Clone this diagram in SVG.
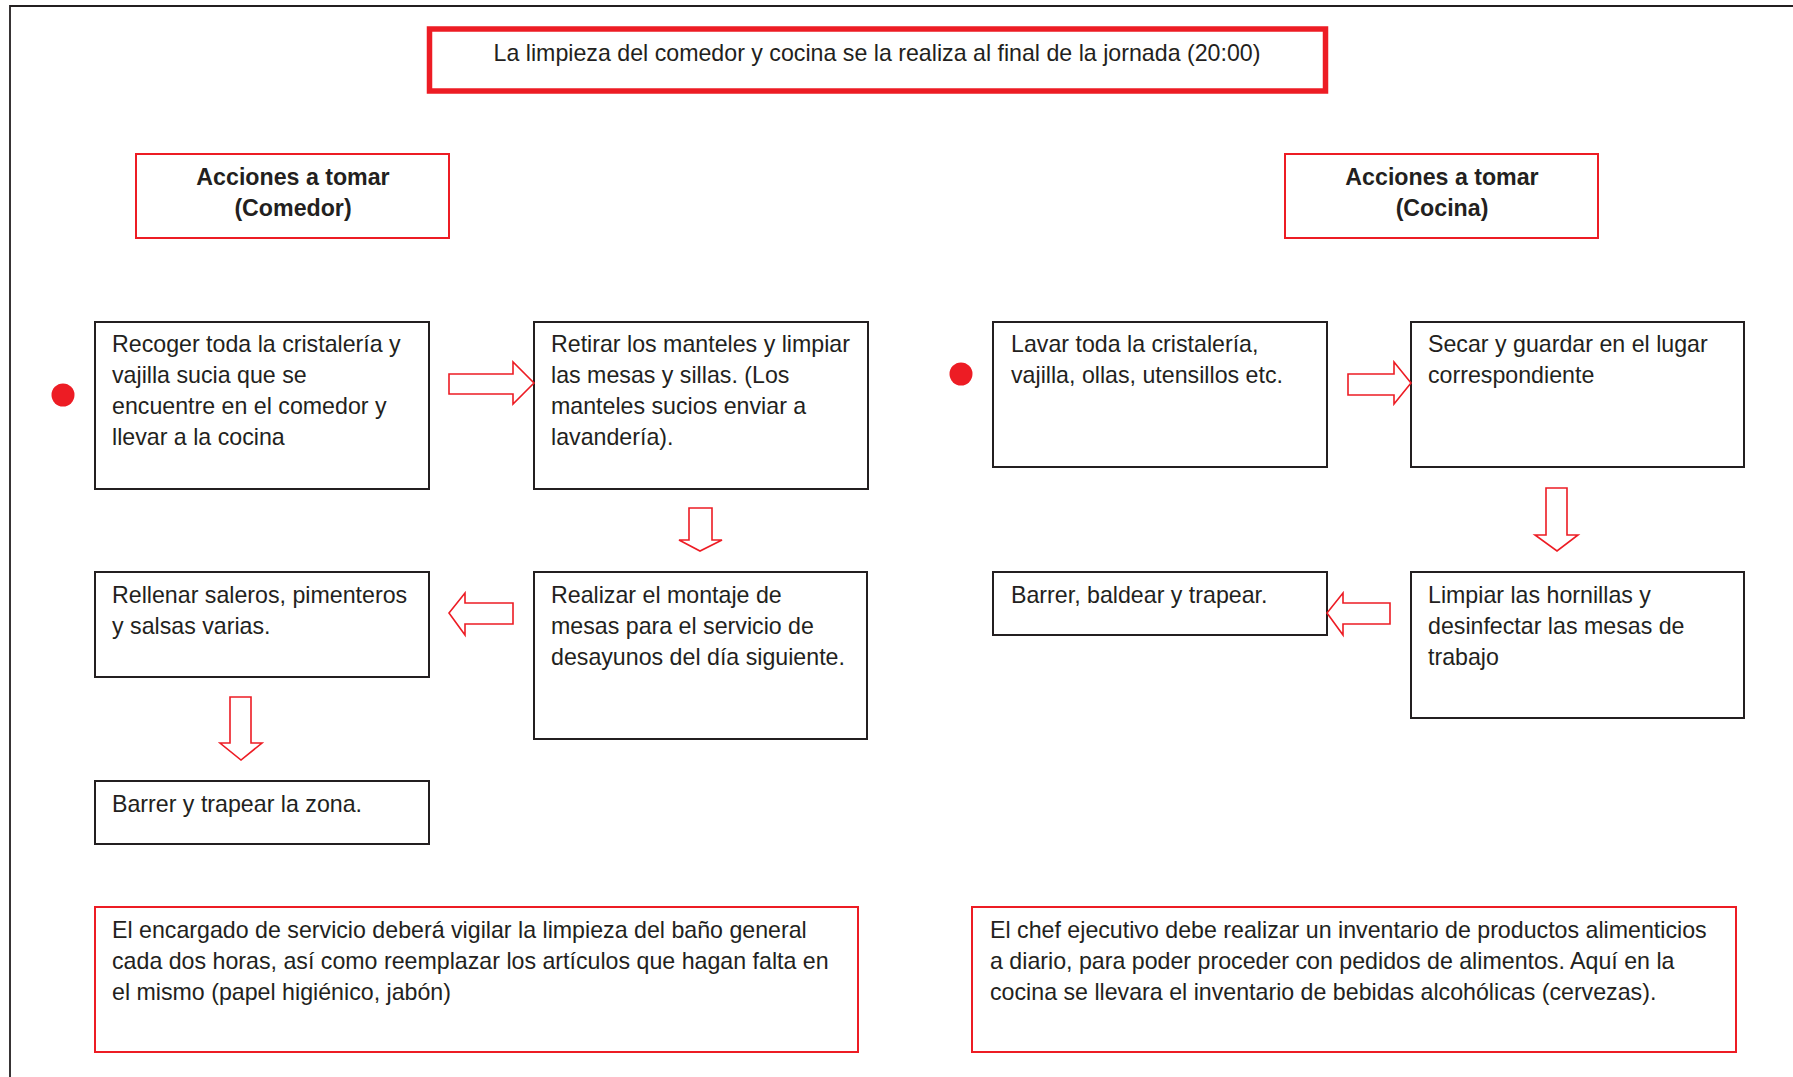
<svg xmlns="http://www.w3.org/2000/svg" width="1793" height="1077" viewBox="0 0 1793 1077">
<style>
text{font-family:"Liberation Sans",Arial,sans-serif;font-size:23.2px;fill:#231f20}
.b{font-weight:bold}
.box{fill:#fff;stroke:#231f20;stroke-width:2}
.rbox{fill:#fff;stroke:#ed1c24;stroke-width:2}
.arr{fill:#fff;stroke:#ed1c24;stroke-width:1.6;stroke-linejoin:miter}
.dot{fill:#ed1c24}
</style>
<rect width="1793" height="1077" fill="#fff"/>
<g id="frame"><path d="M10 1077 V6 H1793" fill="none" stroke="#231f20" stroke-width="1.8"/></g>
<g id="title"><rect x="429.5" y="29" width="896" height="62" fill="#fff" stroke="#ed1c24" stroke-width="5.5"/><text x="877" y="61" text-anchor="middle">La limpieza del comedor y cocina se la realiza al final de la jornada (20:00)</text></g>
<g id="h-comedor"><rect class="rbox" x="136" y="154" width="313" height="84"/><text class="b" x="293" y="185" text-anchor="middle">Acciones a tomar</text><text class="b" x="293" y="216" text-anchor="middle">(Comedor)</text></g>
<g id="h-cocina"><rect class="rbox" x="1285" y="154" width="313" height="84"/><text class="b" x="1442" y="185" text-anchor="middle">Acciones a tomar</text><text class="b" x="1442" y="216" text-anchor="middle">(Cocina)</text></g>
<g id="dot1"><circle class="dot" cx="63" cy="395" r="11.5"/></g>
<g id="dot2"><circle class="dot" cx="961" cy="374" r="11.5"/></g>
<g id="n1"><rect class="box" x="95" y="322" width="334" height="167"/><text x="112" y="352">Recoger toda la cristalería y</text><text x="112" y="383">vajilla sucia que se</text><text x="112" y="414">encuentre en el comedor y</text><text x="112" y="445">llevar a la cocina</text></g>
<g id="n2"><rect class="box" x="534" y="322" width="334" height="167"/><text x="551" y="352">Retirar los manteles y limpiar</text><text x="551" y="383">las mesas y sillas. (Los</text><text x="551" y="414">manteles sucios enviar a</text><text x="551" y="445">lavandería).</text></g>
<g id="n3"><rect class="box" x="534" y="572" width="333" height="167"/><text x="551" y="603">Realizar el montaje de</text><text x="551" y="634">mesas para el servicio de</text><text x="551" y="665">desayunos del día siguiente.</text></g>
<g id="n4"><rect class="box" x="95" y="572" width="334" height="105"/><text x="112" y="603">Rellenar saleros, pimenteros</text><text x="112" y="634">y salsas varias.</text></g>
<g id="n5"><rect class="box" x="95" y="781" width="334" height="63"/><text x="112" y="812">Barrer y trapear la zona.</text></g>
<g id="n6"><rect class="box" x="993" y="322" width="334" height="145"/><text x="1011" y="352">Lavar toda la cristalería,</text><text x="1011" y="383">vajilla, ollas, utensillos etc.</text></g>
<g id="n7"><rect class="box" x="1411" y="322" width="333" height="145"/><text x="1428" y="352">Secar y guardar en el lugar</text><text x="1428" y="383">correspondiente</text></g>
<g id="n8"><rect class="box" x="1411" y="572" width="333" height="146"/><text x="1428" y="603">Limpiar las hornillas y</text><text x="1428" y="634">desinfectar las mesas de</text><text x="1428" y="665">trabajo</text></g>
<g id="n9"><rect class="box" x="993" y="572" width="334" height="63"/><text x="1011" y="603">Barrer, baldear y trapear.</text></g>
<g id="note1"><rect class="rbox" x="95" y="907" width="763" height="145"/><text x="112" y="938">El encargado de servicio deberá vigilar la limpieza del baño general</text><text x="112" y="969">cada dos horas, así como reemplazar los artículos que hagan falta en</text><text x="112" y="1000">el mismo (papel higiénico, jabón)</text></g>
<g id="note2"><rect class="rbox" x="972" y="907" width="764" height="145"/><text x="990" y="938">El chef ejecutivo debe realizar un inventario de productos alimenticios</text><text x="990" y="969">a diario, para poder proceder con pedidos de alimentos. Aquí en la</text><text x="990" y="1000">cocina se llevara el inventario de bebidas alcohólicas (cervezas).</text></g>
<g id="connectors">
<polygon class="arr" points="449,374 513,374 513,362 534,383 513,404 513,394 449,394"/>
<polygon class="arr" points="689,508 712,508 712,540 722,540 700,551 679,540 689,540"/>
<polygon class="arr" points="513,603 465,603 465,593 449,613 465,635 465,624 513,624"/>
<polygon class="arr" points="230,697 251,697 251,743 262,743 241,760 220,743 230,743"/>
<polygon class="arr" points="1348,374 1394,374 1394,362 1411,383 1394,404 1394,395 1348,395"/>
<polygon class="arr" points="1546,488 1567,488 1567,535 1578,535 1557,551 1535,535 1546,535"/>
<polygon class="arr" points="1390,603 1343,603 1343,593 1327,613 1343,635 1343,624 1390,624"/>
</g>
</svg>
